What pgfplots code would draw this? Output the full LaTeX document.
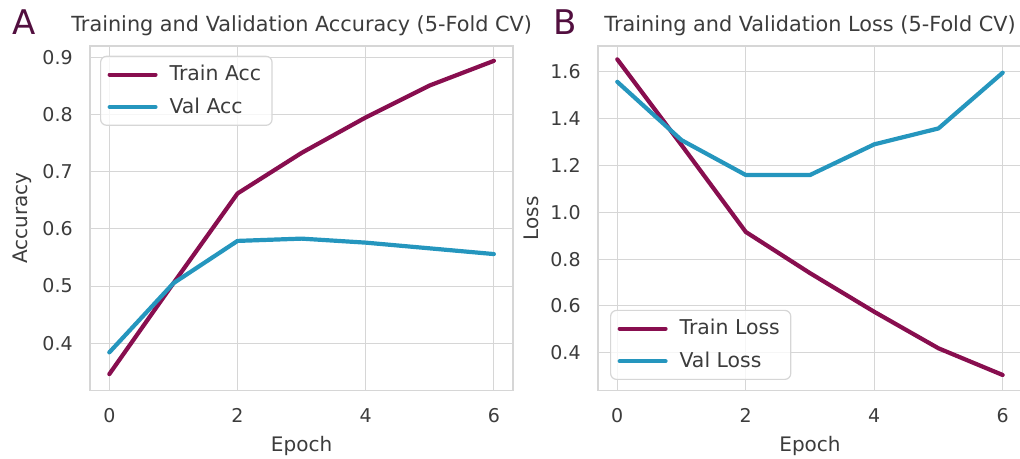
\documentclass[border=0pt]{standalone}
\usepackage{fontspec}
\setmainfont{DejaVu Sans}
\usepackage{pgfplots}
\pgfplotsset{compat=1.18}
\definecolor{trainc}{HTML}{880E4F}
\definecolor{valc}{HTML}{2596BE}
\definecolor{gridc}{RGB}{214,214,214}
\definecolor{txtc}{RGB}{60,60,60}
\definecolor{letc}{HTML}{520F3F}
\pgfplotsset{
  every axis title shift=0pt,
  panel/.style={
    scale only axis,
    width=211.5pt, height=172.35pt,
    xmin=-0.3, xmax=6.3,
    xtick={0,2,4,6}, xticklabels={0,2,4,6},
    grid=major,
    grid style={draw=gridc, line width=0.55pt},
    axis line style={draw=gridc, line width=0.65pt},
    major tick length=0pt,
    tick style={draw=none},
    ticklabel style={font=\fontsize{9.5}{11}\selectfont, text=txtc},
    xticklabel style={anchor=base, yshift=-16pt},
    yticklabel style={anchor=east, inner sep=0pt, xshift=-8.5pt},
    title style={at={(0.5,1)}, anchor=base, yshift=7.15pt, font=\fontsize{10.4}{12}\selectfont, text=txtc},
    xlabel style={at={(0.5,0)}, anchor=base, yshift=-30.5pt, font=\fontsize{10}{12}\selectfont, text=txtc},
    ylabel style={anchor=center, font=\fontsize{10}{12}\selectfont, text=txtc},
    legend style={draw=gridc, line width=0.6pt, rounded corners=3pt, fill=white, fill opacity=0.8, text opacity=1, draw opacity=1,
      font=\fontsize{10.2}{12}\selectfont, text=txtc, inner xsep=3.5pt, inner ysep=2.5pt, row sep=3pt,
      /tikz/every odd column/.append style={column sep=4pt}},
    legend cell align=left,
    legend image code/.code={\draw[#1, line width=2pt] (0pt,0pt) -- (23pt,0pt);},
    every axis plot/.append style={line width=2.1pt, line join=round, line cap=round, mark=none},
  }
}
\begin{document}
\begin{tikzpicture}
\begin{axis}[panel,
  at={(45.05pt,34.15pt)}, anchor=south west,
  ymin=0.317, ymax=0.92,
  ytick={0.4,0.5,0.6,0.7,0.8,0.9}, yticklabels={0.4,0.5,0.6,0.7,0.8,0.9},
  title={Training and Validation Accuracy (5-Fold CV)},
  xlabel={Epoch}, ylabel={Accuracy},
  ylabel style={at={(axis description cs:-0.1598,0.5)}},
  legend style={at={(0,1)}, anchor=north west, xshift=4.95pt, yshift=-4.85pt},
]
\addplot[trainc] coordinates {(0,0.346) (1,0.505) (2,0.662) (3,0.733) (4,0.795) (5,0.851) (6,0.894)};
\addlegendentry{Train Acc}
\addplot[valc] coordinates {(0,0.384) (1,0.505) (2,0.579) (3,0.583) (4,0.576) (5,0.566) (6,0.556)};
\addlegendentry{Val Acc}
\end{axis}
\begin{axis}[panel,
  at={(299pt,34.15pt)}, anchor=south west,
  width=212pt,
  ymin=0.238, ymax=1.71,
  ytick={0.4,0.6,0.8,1.0,1.2,1.4,1.6}, yticklabels={0.4,0.6,0.8,1.0,1.2,1.4,1.6},
  title={Training and Validation Loss (5-Fold CV)},
  xlabel={Epoch}, ylabel={Loss},
  ylabel style={at={(axis description cs:-0.1568,0.5)}},
  legend style={at={(0,0)}, anchor=south west, xshift=6pt, yshift=5.35pt},
]
\addplot[trainc] coordinates {(0,1.653) (1,1.287) (2,0.916) (3,0.740) (4,0.575) (5,0.419) (6,0.305)};
\addlegendentry{Train Loss}
\addplot[valc] coordinates {(0,1.557) (1,1.308) (2,1.159) (3,1.159) (4,1.290) (5,1.358) (6,1.596)};
\addlegendentry{Val Loss}
\end{axis}
\node[anchor=center, inner sep=0pt, font=\fontsize{17}{20}\selectfont, text=letc] at (12pt,218.25pt) {A};
\node[anchor=center, inner sep=0pt, font=\fontsize{17}{20}\selectfont, text=letc] at (282.5pt,218.5pt) {B};
\pgfresetboundingbox
\path (0pt,0pt) rectangle (510pt,229.5pt);
\end{tikzpicture}
\end{document}
